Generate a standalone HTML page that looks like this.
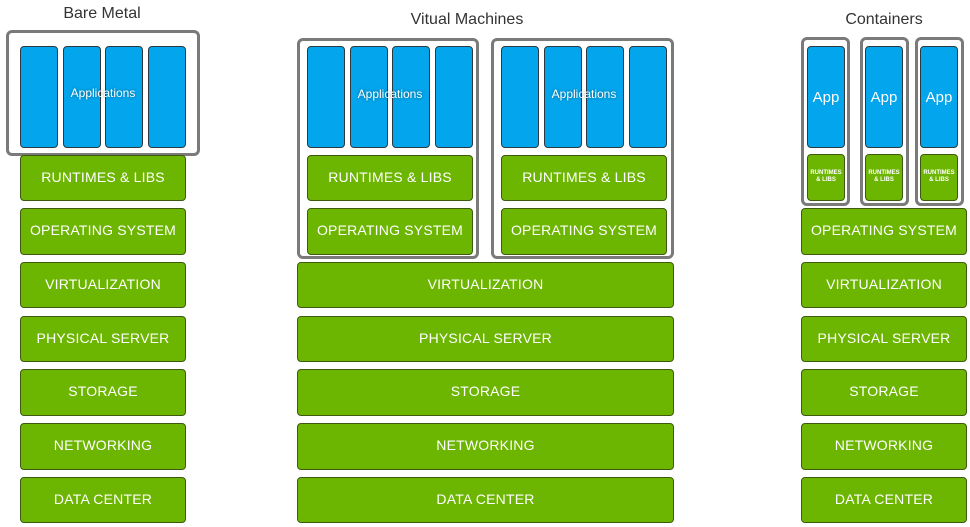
<!DOCTYPE html>
<html><head><meta charset="utf-8"><style>
body{margin:0;width:970px;height:527px;background:#fff;position:relative;overflow:hidden;font-family:"Liberation Sans",sans-serif}
div{position:absolute;box-sizing:border-box}
.o{border:3px solid #7a7a7a;border-radius:6px;background:#fff}
.b{background:#03a5ec;border:1px solid #2a3a40;border-radius:4px}
.g{background:#6cb500;border:1px solid #3d5a10;border-radius:4px;color:#fff;font-size:14px;display:flex;align-items:center;justify-content:center;letter-spacing:0.2px;padding-bottom:3px}
.t{color:#333;font-size:16px;text-align:center;width:200px}
.l{color:#fff;font-size:12px;text-align:center;text-shadow:0 0 3px rgba(0,0,0,.4)}
.app{color:#fff;font-size:15px;display:flex;align-items:center;justify-content:center}
.s{font-size:6px;line-height:7px;text-align:center;letter-spacing:0;font-weight:bold;padding-bottom:2px}
</style></head><body>
<div class="t" style="left:2px;top:5px">Bare Metal</div>
<div class="t" style="left:367px;top:11px">Vitual Machines</div>
<div class="t" style="left:784px;top:11px">Containers</div>

<!-- Bare metal -->
<div class="o" style="left:6px;top:30px;width:194px;height:126px"></div>
<div class="b" style="left:20px;top:46px;width:38px;height:102px"></div>
<div class="b" style="left:63px;top:46px;width:38px;height:102px"></div>
<div class="b" style="left:105px;top:46px;width:38px;height:102px"></div>
<div class="b" style="left:148px;top:46px;width:38px;height:102px"></div>
<div class="l" style="left:20px;top:86px;width:166px">Applications</div>
<div class="g" style="left:20px;top:155px;width:166px;height:46px">RUNTIMES &amp; LIBS</div>
<div class="g" style="left:20px;top:208px;width:166px;height:47px">OPERATING SYSTEM</div>
<div class="g" style="left:20px;top:262px;width:166px;height:46px">VIRTUALIZATION</div>
<div class="g" style="left:20px;top:316px;width:166px;height:46px">PHYSICAL SERVER</div>
<div class="g" style="left:20px;top:369px;width:166px;height:47px">STORAGE</div>
<div class="g" style="left:20px;top:423px;width:166px;height:47px">NETWORKING</div>
<div class="g" style="left:20px;top:477px;width:166px;height:46px">DATA CENTER</div>

<!-- VMs -->
<div class="o" style="left:297px;top:38px;width:182px;height:221px"></div>
<div class="b" style="left:307px;top:46px;width:38px;height:102px"></div>
<div class="b" style="left:350px;top:46px;width:38px;height:102px"></div>
<div class="b" style="left:392px;top:46px;width:38px;height:102px"></div>
<div class="b" style="left:435px;top:46px;width:38px;height:102px"></div>
<div class="l" style="left:307px;top:87px;width:166px">Applications</div>
<div class="g" style="left:307px;top:155px;width:166px;height:46px">RUNTIMES &amp; LIBS</div>
<div class="g" style="left:307px;top:208px;width:166px;height:47px">OPERATING SYSTEM</div>

<div class="o" style="left:491px;top:38px;width:183px;height:221px"></div>
<div class="b" style="left:501px;top:46px;width:38px;height:102px"></div>
<div class="b" style="left:544px;top:46px;width:38px;height:102px"></div>
<div class="b" style="left:586px;top:46px;width:38px;height:102px"></div>
<div class="b" style="left:629px;top:46px;width:38px;height:102px"></div>
<div class="l" style="left:501px;top:87px;width:166px">Applications</div>
<div class="g" style="left:501px;top:155px;width:166px;height:46px">RUNTIMES &amp; LIBS</div>
<div class="g" style="left:501px;top:208px;width:166px;height:47px">OPERATING SYSTEM</div>

<div class="g" style="left:297px;top:262px;width:377px;height:46px">VIRTUALIZATION</div>
<div class="g" style="left:297px;top:316px;width:377px;height:46px">PHYSICAL SERVER</div>
<div class="g" style="left:297px;top:369px;width:377px;height:47px">STORAGE</div>
<div class="g" style="left:297px;top:423px;width:377px;height:47px">NETWORKING</div>
<div class="g" style="left:297px;top:477px;width:377px;height:46px">DATA CENTER</div>

<!-- Containers -->
<div class="o" style="left:801px;top:37px;width:49px;height:169px"></div>
<div class="b app" style="left:807px;top:46px;width:38px;height:102px">App</div>
<div class="g s" style="left:807px;top:154px;width:38px;height:47px">RUNTIMES<br>&amp; LIBS</div>
<div class="o" style="left:860px;top:37px;width:49px;height:169px"></div>
<div class="b app" style="left:865px;top:46px;width:38px;height:102px">App</div>
<div class="g s" style="left:865px;top:154px;width:38px;height:47px">RUNTIMES<br>&amp; LIBS</div>
<div class="o" style="left:915px;top:37px;width:49px;height:169px"></div>
<div class="b app" style="left:920px;top:46px;width:38px;height:102px">App</div>
<div class="g s" style="left:920px;top:154px;width:38px;height:47px">RUNTIMES<br>&amp; LIBS</div>

<div class="g" style="left:801px;top:208px;width:166px;height:47px">OPERATING SYSTEM</div>
<div class="g" style="left:801px;top:262px;width:166px;height:46px">VIRTUALIZATION</div>
<div class="g" style="left:801px;top:316px;width:166px;height:46px">PHYSICAL SERVER</div>
<div class="g" style="left:801px;top:369px;width:166px;height:47px">STORAGE</div>
<div class="g" style="left:801px;top:423px;width:166px;height:47px">NETWORKING</div>
<div class="g" style="left:801px;top:477px;width:166px;height:46px">DATA CENTER</div>
</body></html>
